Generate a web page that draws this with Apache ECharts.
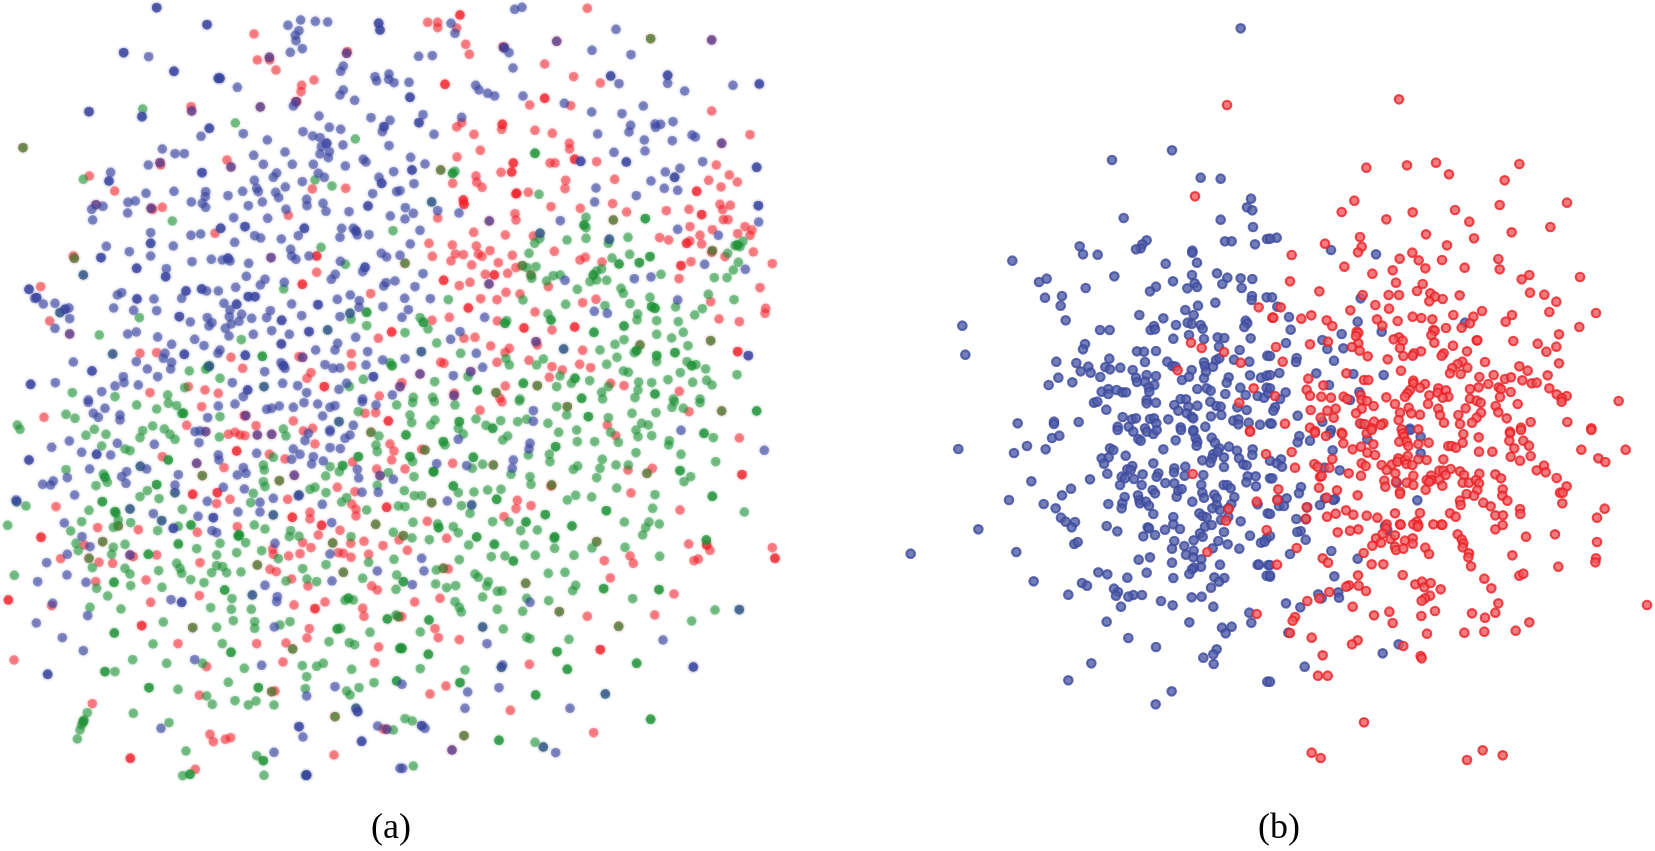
<!DOCTYPE html>
<html><head><meta charset="utf-8"><style>html,body{margin:0;padding:0;background:#fff}#c{width:1655px;height:851px}</style>
<script src="https://cdn.jsdelivr.net/npm/echarts@6/dist/echarts.min.js"></script></head><body><div id="c"></div>
<script>
// Values. Each list is flat x,y pairs, at 3 units per reference pixel, region by region.
const panelLabels=['(a)','(b)'];
const a1Blue=[446,170,864,76,902,60,946,64,983,66,897,92,886,106,888,122,871,157,907,146,1030,198,1022,214,1125,230,1130,243,1167,222,1166,238,1182,248,1030,270,1020,285,1064,301,712,262,880,318,957,348,1113,353,1170,361,1147,395,988,382,1022,388,730,401,603,409,909,395,938,408,960,413,487,447,525,461,553,461,445,495,802,420,761,466,855,456,790,493,877,493,940,493,985,473,960,462,988,455,964,440,1029,435,1167,437,1036,498,1090,478,1098,486,1181,515,1137,532,955,520,973,532,907,545,830,519,820,532,763,541,770,565,775,575,728,574,856,561,827,577,836,593,684,587,617,575,616,590,574,606,607,610,617,622,745,617,787,606,920,598,921,617,969,610,978,634,1047,635,1118,581,1190,575,522,574,438,580,332,517,384,607,406,603,383,639,275,628,309,619,278,660,858,628,701,653,803,655,1171,648,1020,712,1025,685,1060,685,1072,705,1107,704,764,707,782,714,844,717,895,707,573,706,602,702,452,698,704,727,520,738,319,739,388,755,452,768,872,748,875,768,888,778,927,768,576,785,634,778,667,780,690,783,746,790,499,806,1021,784,1144,760,1160,771,1200,766,739,829,795,838,781,855,853,847,707,862,1088,815,1006,823,994,838,1158,848,1185,843,1151,858,352,885,365,878,462,897,545,895,620,873,655,873,1051,885,1012,898,1078,902,1077,922,875,912,1149,920,672,910,165,910,130,912,104,895,207,924,209,956,165,985,341,924,401,931,470,932,571,966,690,930,688,950,725,943,811,932,800,953,905,947,1020,950,622,953,636,968,627,978,717,964,694,972,676,985,755,955,815,992,868,1003,760,1003,687,1008,473,1011,383,1002,409,996,584,1018,612,1037,515,1033,1013,1030,1067,1012,1005,1050,947,1050,1103,1055,660,1050,654,1060,495,1060,490,1075,515,1087,512,1107,409,1085,442,1107,220,1086,975,1094,999,1105,1020,1104,1098,1095,1148,1080,794,1115,843,1088,855,1105,473,1130,370,1130,372,1148,345,1158,415,1155,166,1148,305,1175,697,1148,848,1150,893,1157,1040,1150,1017,1168,920,1178,730,1190,265,1200,1088,1197,1177,1185];
const a1BlueDense=[470,23,621,74,371,158,522,214,655,235,660,235,1136,70,1140,90,267,335,426,350,628,385,1152,380,606,518,327,543,1145,550,1104,618,662,685,735,680,913,685,1068,693,452,730,303,773,684,775,410,805,497,830,1095,802,87,868,110,893,558,873,605,867,411,897,745,890,765,890,954,914,710,913,195,928,538,950,845,961,844,1032,927,995,553,1063,736,1066,276,1113,850,1097,92,1153,743,1170,1120,1130,980,430];
const a1Red=[762,102,772,180,809,180,828,210,942,240,905,256,903,275,1042,155,573,320,681,480,482,495,268,528,344,573,487,622,458,628,937,567,1037,565,865,646,645,700,220,768,950,817,122,860,1112,881,149,963,1135,1015,420,1060,470,1058,1054,1061,693,1072,1055,1097,728,1105,897,1070,933,1118,921,1135,615,1170,565,1160,450,1178,655,1180,1138,1188,890,305];
const a1RedDense=[950,768,907,853,1175,996,973,1160];
const a1Green=[428,327,706,369,1066,417,250,538,945,540,996,558,517,663,1179,692,963,742,1036,793,851,867,1100,977,418,953,298,1005,724,1019,568,1113,617,1108,660,1135,1090,1138,503,1185,217,1178,345,1190,554,1163,1053,958,1170,1088,1048,1160];
const a1GreenDense=[1100,937,787,1069,625,1100,1176,1097];
const a1Teal=[338,1062,983,990,250,825,180,938,792,1160,1050,940,628,1098];
const a1Purple=[781,321,1040,160,808,172,693,501,480,488,288,614,453,625,813,773,209,1002,908,1072,888,305,575,333];
const a1Olive=[69,443,223,775];
const a2Blue=[344,28,366,22,153,70,165,100,648,88,576,151,693,164,56,169,97,167,313,143,327,158,339,204,27,247,657,251,803,250,854,273,999,256,227,256,237,270,263,280,284,288,369,288,493,310,575,336,666,341,730,318,69,344,185,352,692,376,687,396,765,372,782,373,767,382,819,365,593,402,102,403,733,420,817,422,876,405,886,411,735,453,642,457,32,472,75,492,908,485,840,505,796,516,753,543,42,551,588,564,793,565,833,571,709,587,584,606,16,623,40,640,15,657,113,632,177,639,481,662,60,691,833,688,955,706,31,732,1076,666,914,793,1036,808,69,821,45,860,703,836,753,831,495,841,91,896,14,895,25,929,6,952,254,952,583,934,622,940,180,995,152,1018,229,1060,15,1076,248,1102,160,1127,0,572,833,900];
const a2BlueDense=[30,292,57,368,36,510,679,486,824,532,1078,252,803,226,632,228,1070,502,1075,617,1045,1067,542,484];
const a2Red=[562,25,83,67,113,67,113,83,170,84,197,133,208,163,310,140,434,192,521,230,601,249,389,315,512,317,935,333,185,368,170,381,305,388,405,391,457,400,222,403,1050,404,508,430,509,447,241,451,171,471,450,489,465,489,590,485,949,495,303,517,228,528,230,547,246,562,158,550,497,541,495,566,644,538,988,525,926,541,1012,546,963,561,385,577,347,582,453,620,638,611,541,625,680,636,799,632,867,628,960,613,991,616,968,629,345,641,348,660,113,654,970,659,984,659,870,680,937,689,1035,680,1056,690,1013,701,1050,706,221,697,316,705,400,708,779,713,806,720,900,706,870,723,905,732,87,730,157,735,229,738,270,752,166,762,190,764,97,769,235,762,246,769,337,766,463,754,1060,756,935,757,975,770,153,783,295,788,215,795,873,785,1117,791,540,780,556,772,606,786,348,803,323,820,256,823,837,836,178,857,210,847,445,860,1080,863,318,877,360,882,242,896,291,899,588,898,548,908,932,905,405,936,148,952,96,961,292,963,957,957,1018,965,456,990,1097,925,1095,940,192,1015,225,1012,412,1035,272,1038,328,1045,315,1058,548,1051,387,1081,291,1087,122,1087,132,1090,456,1100,539,1093,572,1103,487,1110,448,1132,6,1148,632,1150,316,1158,672,1157,838,1174,300,1195,163,1180];
const a2RedDense=[135,253,434,295,180,45,307,373,340,489,335,516,524,478,190,600,192,613,350,580,905,644,890,574,843,797,860,730,283,825,131,841,205,924,524,981,372,984,1013,1055];
const a2Green=[165,514,417,583,558,652,558,683,558,715,501,720,684,712,404,730,419,716,387,760,625,730,689,763,636,774,1029,724,1005,737,1020,740,983,760,1015,787,1000,810,981,833,943,833,783,823,408,800,381,803,395,835,440,843,460,827,481,825,590,813,605,807,570,845,590,840,620,841,532,868,663,865,670,880,750,892,145,899,369,900,497,913,615,917,690,911,925,883,1002,899,907,926,884,945,827,921,444,942,60,953,84,987,15,998,110,1029,182,1060,320,962,770,962,835,965,713,942,711,960,770,1003,850,997,815,1014,672,1019,645,1033,600,1050,864,1037,651,1072,620,1093,703,1058,770,1085,861,1085,888,1094,917,1107,841,1118,1011,1124,430,1077,410,1095,328,1095,318,1076,670,1113,685,1117,920,1141,936,1155,878,1147,804,1139,755,1148,716,1146,714,1170,605,1177,625,1160,569,1142,514,1150,480,1128,470,1160,104,1145,204,1130,360,1197,40,1192,98,1192,705,1193,820,1197,900,1197,608,1197];
const a2GreenDense=[405,460,158,520,552,675,736,656,718,788,750,770,657,792,580,825,1012,735,875,1097,582,997,672,978,755,920,765,925,453,960,70,967,315,970,710,1052,770,1067,825,1058,525,1135,370,1150,232,1170,765,1182,545,1195];
const a2Olive=[752,116,122,510,640,660,937,752,393,825,367,797,15,790,932,1022,288,1178,412,1157,720,1035];
const a2Teal=[95,606,491,1047,64,1055,628,718,420,700];
const a2Purple=[470,124,935,120,311,143,965,430,268,663,267,852,408,1025,60,1122,212,1115,162,1187,0,1160];
const a3Blue=[265,7,315,25,280,40,295,52,360,45,360,60,623,53,655,18,705,12,800,28,815,25,838,18,880,22,912,8,953,12,990,22,1005,17,1087,5,1128,15,968,48,1060,76,990,95,1050,105,1035,115,915,122,925,100,585,95,600,93,597,128,155,142,208,123,245,157,332,165,352,130,463,133,770,160,655,165,657,180,880,147,900,163,875,178,940,170,935,192,970,183,990,143,1021,146,990,90,269,207,202,233,128,253,152,255,160,243,380,215,365,230,378,250,440,207,535,224,712,225,730,203,738,220,670,262,733,267,525,255,1072,208,1076,234,1180,238,1086,277,1135,277,224,285,48,300,622,304,780,307,820,295,895,288,780,336,714,336,967,313,460,341,594,349,193,369,636,392,650,398,995,368,246,410,270,440,202,463,140,488,825,430,990,462,1132,513,201,525,113,545,258,547,795,556,996,543,513,599,832,590,830,605,158,610,263,647,109,669,823,681,187,713,250,752,584,779,785,796,1005,860,920,888,483,985,909,1011,822,1057,1133,978,1200,1105];
const a3BlueDense=[87,180,290,163,640,353,545,607,143,823,897,980,1073,935,1085,1024,520,385,920,1125];
const a3Red=[132,52,605,20,733,47,560,76,768,77,880,63,1095,40,1127,38,910,93,938,85,685,103,705,97,720,105,735,107,945,132,1170,132,1182,153,808,163,855,177,487,170,672,203,1058,186,1175,180,1130,207,1012,262,1065,275,690,298,650,311,863,298,168,320,1055,312,1068,328,1068,348,930,337,930,357,712,380,293,383,415,389,592,397,955,405,1020,391,253,435,908,428,933,443,1052,430,1092,424,1149,437,1197,420,818,447,820,463,866,468,900,461,1015,458,1030,460,1053,472,1106,463,182,476,470,465,400,470,297,487,338,490,600,488,810,508,829,515,438,540,287,545,875,537,924,558,1115,558,1132,570,598,587,452,607,155,617,975,606,882,615,1088,625,1092,649,928,686,921,714,858,729,534,731,770,731,1136,741,42,780,849,786,1124,788,620,800,598,886,825,873,277,911,630,1003,640,1025,676,1018,692,1013,1002,1065,586,1108,1150,987];
const a3RedDense=[710,153,1165,63,578,283,652,278,877,352,965,376,1160,322,123,412,25,600,945,626,425,677,391,1075];
const a3Green=[198,43,225,55,52,75,60,88,470,27,530,17,545,40,410,15,505,10,660,50,1075,35,1190,15,283,88,258,106,318,103,458,78,428,92,420,113,493,87,510,103,525,118,658,111,850,87,858,108,1137,108,305,138,375,147,390,152,820,172,1128,135,1132,155,198,209,310,222,322,247,288,257,790,195,793,210,990,200,977,228,1018,215,1165,218,790,245,795,260,945,262,930,268,978,278,1132,256,420,290,442,272,477,296,760,280,752,308,1040,293,1025,306,1100,330,1195,318,78,318,267,331,348,340,547,328,355,360,245,365,392,368,23,376,340,382,212,393,473,392,535,379,763,375,795,387,872,392,868,410,897,409,1180,397,1053,410,228,430,235,452,340,442,335,463,375,433,660,430,590,446,737,428,785,452,710,458,650,465,530,490,540,505,545,520,650,497,668,500,635,518,680,518,723,516,572,539,612,548,375,505,390,522,476,512,277,503,835,476,978,494,908,506,1106,487,1182,478,43,526,392,557,290,565,323,588,486,562,858,543,921,537,950,545,1088,535,1188,568,1190,525,696,596,632,623,694,628,754,628,363,627,270,622,700,662,764,665,490,666,650,682,764,685,870,665,840,675,1110,697,1060,600,1035,601,1022,685,987,725,1048,728,1064,734,459,732,667,731,398,779,500,790,733,805,907,797,950,799,970,790,1055,808,920,830,345,815,608,790,1122,848,685,847,534,868,916,866,1077,863,1040,873,1050,885,620,888,637,913,705,902,745,915,768,903,822,915,400,940,507,968,262,938,252,960,240,990,232,1017,245,975,558,1053,770,1067,548,1127,792,1126,1180,990,1188,645];
const a3GreenDense=[470,254,307,305,345,335,573,375,715,408,535,432,445,463,342,547,1028,197,1075,170,505,180,315,232,674,570,1045,595,1012,687,343,699,693,757,315,815,447,863,775,863,1190,843,570,1123,790,1082,550,40,1162,657,1200,745,718,405,250,965];
const a3Olive=[607,227,838,242,308,425,267,475,1127,373,1030,517,998,429,1113,97,578,683,878,747,1005,950,772,495,355,378,815,875,1195,650];
const a3Teal=[421,199,525,278,1017,65,390,327,485,362,820,345,50,305,1068,925,757,585,918,1126,897,285];
const a3Purple=[617,95,737,47,772,105,815,103,883,226,1140,227,390,465,1160,988,590,190];
const a4Blue=[400,32,400,64,175,118,390,130,387,147,110,191,200,197,340,180,337,205,142,303,65,475,72,513,37,554,390,607,1093,151,843,91,789,720,261,731,6,853,297,863,203,876,195,925,510,925,75,985,467,1058,8,1105,308,795];
const a4BlueDense=[880,801,65,977];
const a4Red=[240,31,306,6,622,75,647,107,867,35,1018,114,65,148,158,190,15,207,757,205,684,210,693,279,840,330,352,301,348,326,393,317,312,350,82,364,140,415,22,451,866,432,613,482,690,468,700,490,1117,443,882,482,895,477,930,451,631,534,822,582,44,606,120,595,5,650,562,649,764,645,105,686,115,713,178,719,388,793,138,858,90,882,331,931,581,998,145,507,453,258];
const a4RedDense=[920,435,1026,224,1125,475,601,749];
const a4Green=[38,8,103,5,165,15,30,45,35,68,105,60,92,75,175,85,190,102,228,57,258,76,302,62,353,65,380,58,444,70,476,97,470,20,500,45,358,3,530,90,532,125,584,125,625,53,632,97,655,127,696,40,768,38,725,70,745,75,708,90,714,110,755,107,816,22,823,5,850,25,900,8,806,135,808,122,843,163,940,113,947,185,135,135,308,120,323,108,385,165,448,163,450,185,708,158,607,178,600,205,590,233,648,195,685,195,520,208,533,198,42,230,38,185,100,215,217,205,248,193,333,223,390,230,393,253,650,264,852,245,872,230,765,284,13,272,43,287,65,287,175,278,222,276,263,270,303,268,575,291,502,300,527,286,184,317,210,340,15,320,758,325,1033,336,39,367,113,372,160,380,175,398,278,365,327,366,362,392,412,390,673,366,747,366,737,383,728,405,778,372,36,414,88,419,206,435,373,435,464,445,675,442,576,444,274,470,315,468,406,466,522,466,779,469,178,479,445,520,495,517,109,510,225,522,235,532,265,545,260,558,107,552,140,563,167,557,292,574,306,573,527,556,518,572,248,591,165,605,178,622,184,636,292,628,380,595,368,634,446,602,698,596,945,630,875,663,61,696,310,687,507,718,61,806,195,810,15,956,37,963,40,1098,405,1027,380,712,390,716,463,415];
const a4GreenDense=[18,105,278,85,178,65,565,50,467,140,220,172,290,298,436,344,378,366,619,332,516,378,116,383,230,411,283,433,464,411,340,483,10,545,611,566,777,569,87,660,85,763,6,745,471,755,502,808,710,790,180,848,407,885,937,289,840,212,912,100,1070,33,919,420,752,958,297,1021,101,215,160,258,30,170,130,125];
const a4Olive=[502,20,965,33,95,308,280,195,75,150,741,220,455,255,10,407,590,425,130,505,377,550,478,635,656,679,192,1007];
const a4Teal=[248,681,304,802,616,882,430,1041,1018,629,215,315];
const a4Purple=[156,1050];
const b1Blue=[1052,85,846,451,666,480,932,533,992,536,1083,596,1071,622,1087,631,701,654,992,659,1089,681,1131,717,1005,724,1025,724,1095,733,770,721,757,733,752,745,738,748,569,739,579,763,623,764,907,752,907,758,921,788,367,782,827,791,447,846,470,836,673,829,906,825,981,820,1012,833,1052,835,1087,837,849,844,587,864,798,860,780,874,892,865,914,850,921,861,997,852,1055,864,465,893,516,888,512,917,1086,888,1085,900,1130,892,976,908,924,917,886,930,527,961,748,945,820,955,911,945,1067,962,1072,970,1063,981,217,977,630,990,659,990,782,990,792,978,795,988,858,975,893,968,905,972,932,975,938,986,850,1016,897,1005,942,1017,983,1012,1003,1014,1082,1015,585,1032,579,1048,226,1064,741,1054,762,1055,798,1053,987,1040,1049,1050,1132,1067,658,1076,765,1086,499,1085,559,1089,595,1100,572,1114,602,1118,646,1101,660,1108,691,1103,728,1110,832,1085,847,1098,857,1100,942,1087,945,1098,969,1100,978,1080,988,1075,1032,1079,1078,1085,905,1110,948,1115,505,1133,547,1147,476,1155,631,1131,738,1133,741,1146,770,1125,798,1128,765,1145,793,1155,776,1162,778,1175,876,1140,897,1130,942,1135,1016,1132,1010,1148,1080,1126,1113,1133,1130,1127,635,1175,655,1167,655,1182,680,1170,697,1177,708,1177,922,1167,950,1165,962,1172,1006,1182,1051,1163,1067,1185,1103,1188,1122,1193,1130,1163,1135,1180,612,1208,622,1205,770,1200,770,1210,798,1208,872,1197,888,1198,853,1215,865,1232,895,1220,922,1217,961,1205,979,1218,992,1220,1042,1222,1070,1230,649,1229,698,1251,726,1258,738,1255,780,1257,792,1255,799,1270,835,1258,890,1240,905,1250,910,1255,963,1249,994,1245,1030,1262,1045,1258,1045,1273,1076,1268,1110,1274,383,1270,492,1265,492,1272,566,1266,683,1280,716,1280,765,1285,872,1282,910,1290,946,1280,1140,1270];
const b1Red=[1011,315,915,589,1106,922,1147,953,903,1028,935,1044,1002,1056,1052,1088,863,1111,1091,1165,1048,1208,1080,1292];
const b2Blue=[20,713,0,716,183,750,318,763,6,892,272,895,22,920,57,951,263,965,585,968,62,989,215,1002,335,995,157,1020,48,1029,172,1047,220,1045,0,1068,80,1074,78,1086,192,1082,28,1119,139,1120,250,1122,341,1125,177,1155,0,1125,268,1176,47,1177,0,1165,30,1197,240,1200,15,1222,10,1232,83,1247,5,1271,157,1265,275,1272,183,1290,420,1286];
const b2Red=[387,298,289,503,411,496,498,488,537,523,748,492,704,541,253,602,215,636,428,637,349,658,555,630,598,665,689,615,891,608,841,681,725,697,468,703,612,715,270,711,165,731,275,740,264,757,531,736,65,765,427,758,389,776,446,781,516,780,685,777,223,800,466,805,584,803,689,808,307,821,368,811,778,825,755,838,930,831,60,844,378,848,458,852,148,874,441,873,481,880,495,890,356,885,387,885,569,886,518,897,478,904,780,878,823,884,859,905,278,885,316,915,357,926,241,931,32,922,838,936,636,933,610,950,550,945,428,950,454,954,487,958,726,945,978,939,94,956,124,946,10,953,170,961,187,978,321,958,337,977,383,963,600,970,575,983,707,965,528,984,928,981,260,995,265,998,490,990,494,992,867,1003,258,1008,484,1006,387,1012,371,1018,398,1022,620,1021,622,1021,265,1030,174,1025,120,1033,493,1028,730,1023,803,1031,18,1041,246,1041,390,1044,269,1052,549,1037,859,1040,829,1055,453,1054,432,1060,428,1067,591,1054,521,1060,515,1067,400,1068,293,1069,353,1078,38,1085,645,1086,577,1085,563,1092,547,1104,592,1103,867,1090,748,1099,773,1112,393,1112,229,1120,540,1120,572,1122,671,1125,628,1131,833,1126,115,1136,282,1140,295,1140,430,1142,705,1137,723,1132,757,1141,430,1150,785,1150,800,1148,655,1152,160,1156,465,1152,450,1163,505,1165,503,1178,528,1171,600,1167,626,1162,686,1162,693,1167,838,1165,110,1169,722,1176,420,1170,412,1180,405,1190,478,1186,120,1187,15,1188,154,1190,183,1193,221,1190,232,1197,349,1192,272,1185,275,1200,535,1190,518,1193,600,1196,620,1202,690,1191,860,1183,890,1188,875,1195,875,1205,632,1208,291,1203,375,1212,474,1212,743,1212,1046,1203,311,1218,275,1226,197,1226,172,1232,122,1230,416,1223,505,1226,587,1225,677,1218,633,1238,685,1237,450,1244,424,1240,390,1238,258,1240,565,1245,510,1245,152,1253,191,1253,710,1255,620,1253,782,1266,892,1266,45,1271,386,1260,522,1268,606,1268,570,1272,270,1270,312,1265,340,1270,333,1275,120,1283,395,1288,445,1288,284,1272,964,1285,753,1283,720,1295,135,1293,215,1298,305,1285];
const b3Blue=[205,57,372,69,411,48,467,58,486,24,508,17,660,55,670,60,635,85,656,82,642,101,707,77,683,0,730,5,745,27,752,32,770,5,790,12,800,0,857,31,820,58,873,0,910,5,917,25,922,35,920,47,965,23,975,38,988,55,970,72,983,65,1017,50,1041,62,1088,58,1087,75,1047,85,1002,82,937,91,966,85,961,98,1002,111,1060,103,1070,106,790,100,886,110,853,115,852,127,884,137,940,135,727,108,712,118,722,120,758,133,805,130,800,140,695,140,705,145,732,147,652,131,600,148,424,154,690,165,755,165,826,159,853,160,934,164,1001,165,1012,165,1022,175,1073,139,1097,139,1069,157,1098,169,1140,145,543,176,516,196,357,210,461,222,497,235,655,222,704,201,744,196,788,180,795,190,860,200,865,182,875,177,937,188,942,203,973,194,980,205,1033,201,907,215,748,210,750,220,768,215,777,227,697,220,695,235,980,225,1024,222,967,235,990,240,1015,235,1103,223,1133,250,790,252,850,261,928,250,938,258,950,262,513,263,527,275,555,276,850,283,945,290,965,285,993,270,1052,274,1015,260,545,292,265,298,650,288,682,304,773,292,777,295,825,299,870,297,795,315,760,319,930,310,938,320,1002,306,1080,317,1130,325,1113,338,1124,335,911,331,853,333,985,333,553,342,563,336,1013,343,62,371,379,366,883,348,846,356,911,362,968,355,1048,356,888,374,910,382,934,388,780,382,746,389,846,398,990,404,933,410,912,413,906,418,1103,404,1107,404,1135,405,770,428,625,427,652,433,898,432,431,454,576,459,591,467,712,443,850,444,973,442,1003,444,987,455,1130,437,963,473,672,476,684,486,678,497,730,495,715,500,756,495,535,494,905,502,935,500,813,513,848,526,970,530,693,530,1078,548,650,575,898,577,1084,578,996,593,1025,590,1007,610,715,624,798,651,980,658,970,673,940,683,971,702,604,700,535,751,1132,755,845,784,797,823,1140,440];
const b3Red=[1080,5,1128,72,908,132,1016,237,1100,215,1008,272,1130,300,952,366,1100,552];
const b4Blue=[88,18,83,37,120,32,180,10,292,28,420,0,452,20,188,61,452,70,33,88,0,92,20,100,36,110,163,113,209,121,7,145,93,171,87,190,380,158,50,205,23,208,165,205,195,207,190,210,442,211,150,225,112,232,27,228,42,228,0,252,79,267,108,268,345,288,352,300,92,303,82,306,0,318,107,329,60,372,184,363,263,386,0,405,193,439,0,436,145,493,155,505,205,487,207,503,48,520,91,532,55,608,386,643,338,670,104,710,0,755];
const b4Red=[135,8,168,18,217,12,290,10,305,0,398,10,402,20,388,35,410,35,415,48,445,42,476,38,580,12,578,38,626,22,720,10,718,32,733,55,722,80,760,32,777,47,753,0,220,40,248,58,273,50,310,43,292,68,315,75,65,66,535,48,545,48,558,53,627,65,667,65,782,78,750,92,934,59,1067,59,964,0,985,85,1006,96,187,87,133,102,143,110,178,113,75,113,275,100,287,108,335,105,365,104,350,120,385,85,382,95,405,90,410,102,427,105,413,78,445,88,470,90,520,88,508,122,520,122,542,117,570,124,822,107,827,127,800,121,236,130,273,137,376,130,430,137,483,137,527,135,582,135,628,131,676,133,693,145,860,144,150,140,155,138,343,152,378,155,410,158,430,165,346,170,470,150,485,150,478,155,508,150,517,167,467,179,578,158,597,158,618,150,627,160,890,169,147,173,25,178,201,181,622,180,698,178,870,188,878,188,390,185,390,192,263,196,590,192,612,197,697,197,170,203,22,210,712,212,570,212,572,225,640,218,662,229,877,220,110,232,1004,236,750,237,228,241,197,251,171,260,250,254,290,257,322,263,375,250,450,249,540,250,557,260,676,256,699,256,751,252,981,263,108,266,440,275,430,283,445,285,443,290,390,283,392,284,490,283,514,284,517,284,698,285,350,283,676,298,240,302,265,298,203,307,348,295,855,313,563,313,575,328,768,320,318,325,338,311,362,327,375,316,405,332,428,325,428,341,333,338,307,347,580,340,578,352,981,336,80,354,375,350,378,360,400,356,466,353,477,372,281,369,597,370,595,382,727,376,158,385,174,398,305,403,340,403,603,409,978,385,976,397,865,410,21,404,264,436,398,435,643,446,748,437,760,431,237,466,229,470,266,467,288,483,178,486,436,463,456,455,463,472,482,459,512,478,664,475,480,497,465,505,455,512,148,505,112,513,685,520,1131,525,248,530,358,545,495,543,676,548,606,550,312,556,454,558,645,563,75,561,68,572,368,579,778,577,583,608,643,605,737,602,471,611,60,609,125,623,263,631,246,643,400,648,158,676,452,678,455,685,144,737,173,737,282,877,125,968,152,984,591,990,638,961,698,976];

const toPoints=(flat,dx,dy)=>{const out=[];for(let i=0;i<flat.length;i+=2)out.push([flat[i]/3+dx,flat[i+1]/3+dy]);return out;};
const offsA=[[0,0],[400,0],[0,400],[400,400]];
const offsB=[[0,0],[380,0],[0,430],[380,430]];
const gather=(lists)=>lists.flatMap((l,i)=>toPoints(l,offsA[i][0],offsA[i][1]));
const gatherB=(lists)=>lists.flatMap((l,i)=>toPoints(l,offsB[i][0],offsB[i][1]));
const blueDense=[a1BlueDense,a2BlueDense,a3BlueDense,a4BlueDense];
const greenDense=[a1GreenDense,a2GreenDense,a3GreenDense,a4GreenDense];
const redDense=[a1RedDense,a2RedDense,a3RedDense,a4RedDense];
const teal=[a1Teal,a2Teal,a3Teal,a4Teal];
const purple=[a1Purple,a2Purple,a3Purple,a4Purple];
const olive=[a1Olive,a2Olive,a3Olive,a4Olive];
const blueA=[...gather([a1Blue,a2Blue,a3Blue,a4Blue]),...gather(blueDense),...gather(blueDense),...gather(teal),...gather(purple)];
const greenA=[...gather([a1Green,a2Green,a3Green,a4Green]),...gather(greenDense),...gather(greenDense),...gather(teal),...gather(olive)];
const redA=[...gather([a1Red,a2Red,a3Red,a4Red]),...gather(redDense),...gather(redDense),...gather(purple),...gather(olive)];
const blueB=gatherB([b1Blue,b2Blue,b3Blue,b4Blue]);
const redB=gatherB([b1Red,b2Red,b3Red,b4Red]);

const softDot=(c)=>({color:c,shadowBlur:3,shadowColor:c});
const sA=(name,data,c)=>({name,type:'scatter',xAxisIndex:0,yAxisIndex:0,data,symbolSize:9.5,itemStyle:softDot(c),clip:false,silent:true,progressive:0,large:false});
const sB=(name,data,f,b)=>({name,type:'scatter',xAxisIndex:1,yAxisIndex:1,data,symbolSize:8.5,itemStyle:{color:f,borderColor:b,borderWidth:2.2},clip:false,silent:true,progressive:0,large:false});
const hidden=(gridIndex,max,inverse)=>({type:'value',gridIndex,min:0,max,inverse,show:false,splitLine:{show:false}});
const labelStyle={fontFamily:'"Liberation Serif"',fontSize:36,fontWeight:'normal',color:'#000'};
const chart=echarts.init(document.getElementById('c'),null,{renderer:'canvas'});
chart.setOption({
 animation:false,backgroundColor:'#fff',
 title:[
  {text:panelLabels[0],left:371,top:811,padding:0,textStyle:labelStyle},
  {text:panelLabels[1],left:1258,top:811,padding:0,textStyle:labelStyle}
 ],
 grid:[{left:0,top:0,width:800,height:851},{left:890,top:0,width:765,height:851}],
 xAxis:[hidden(0,800,false),hidden(1,765,false)],
 yAxis:[hidden(0,851,true),hidden(1,851,true)],
 series:[
  sA('a red',redA,'rgba(240,30,40,0.58)'),
  sA('a green',greenA,'rgba(30,145,55,0.62)'),
  sA('a blue',blueA,'rgba(60,70,160,0.68)'),
  sB('b blue',blueB,'#505da6','#3d4b9f'),
  sB('b red',redB,'#f0595e','#ea2226')
 ]
});
</script></body></html>
